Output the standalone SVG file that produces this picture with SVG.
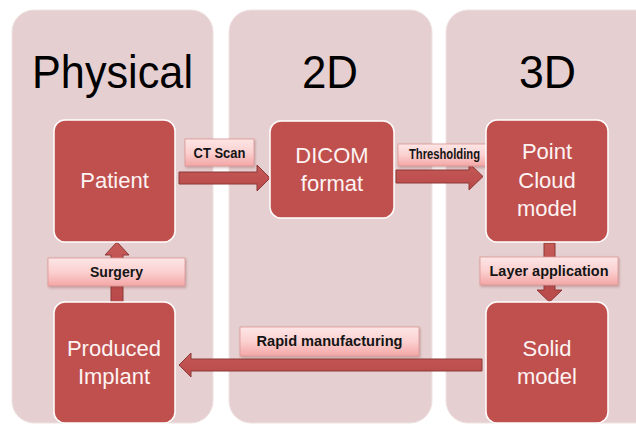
<svg xmlns="http://www.w3.org/2000/svg" width="636" height="426" viewBox="0 0 636 426">
  <style>
    .panel { fill: #e6cfd0; stroke: #efe2e2; stroke-width: 1; }
    .node { fill: #c0504d; stroke: #ffffff; stroke-width: 1.5; }
    .arrow { fill: url(#arrowFill); stroke: #8c3836; stroke-width: 1; }
    .label { fill: url(#labelFill); stroke: #d99694; stroke-width: 0.8; filter: url(#shadow); }
    .heading { font-family: "Liberation Sans", Arial, sans-serif; font-size: 46px; fill: #000000; text-anchor: middle; }
    .ntext { font-family: "Liberation Sans", Arial, sans-serif; font-size: 22px; fill: #fdf3f3; text-anchor: middle; }
    .ltext { font-family: "Liberation Sans", Arial, sans-serif; font-weight: bold; font-size: 14px; fill: #141414; text-anchor: middle; }
  </style>
  <defs>
    <linearGradient id="labelFill" x1="0" y1="0" x2="0" y2="1">
      <stop offset="0" stop-color="#fde6e6"/>
      <stop offset="0.5" stop-color="#fbd0d0"/>
      <stop offset="1" stop-color="#f3a6a5"/>
    </linearGradient>
    <linearGradient id="arrowFill" x1="0" y1="0" x2="0" y2="1">
      <stop offset="0" stop-color="#c55a57"/>
      <stop offset="1" stop-color="#b9494a"/>
    </linearGradient>
    <filter id="shadow" x="-10%" y="-20%" width="125%" height="150%">
      <feDropShadow dx="1" dy="1.5" stdDeviation="1" flood-color="#7a3a3a" flood-opacity="0.35"/>
    </filter>
  </defs>

  <rect width="636" height="426" fill="#ffffff"/>

  <!-- stage panels -->
  <g id="panels">
    <rect class="panel" x="12" y="10" width="201" height="413" rx="22"/>
    <rect class="panel" x="229" y="10" width="203" height="413" rx="22"/>
    <rect class="panel" x="446" y="10" width="214" height="413" rx="22"/>
    <text class="heading" x="112.5" y="88" textLength="161" lengthAdjust="spacingAndGlyphs">Physical</text>
    <text class="heading" x="330" y="88" textLength="56" lengthAdjust="spacingAndGlyphs">2D</text>
    <text class="heading" x="547.5" y="88" textLength="57" lengthAdjust="spacingAndGlyphs">3D</text>
  </g>

  <!-- connectors -->
  <g id="connectors">
    <path class="arrow" d="M179,172 H257 V165 L270,178 L257,191 V184 H179 Z"/>
    <path class="arrow" d="M396,170 H469 V163 L483,176.5 L469,190 V183 H396 Z"/>
    <path class="arrow" d="M544,243 V290 H537 L549.5,302 L562,290 H555 V243 Z"/>
    <path class="arrow" d="M111,302 V255 H105 L117,242 L129,255 H123 V302 Z"/>
    <path class="arrow" d="M482,359 H191 V353 L179,365 L191,377 V371 H482 Z"/>

    <g id="label-ct-scan">
      <rect class="label" x="185" y="139" width="69" height="27"/>
      <text class="ltext" x="219.5" y="157.5" textLength="52" lengthAdjust="spacingAndGlyphs">CT Scan</text>
    </g>
    <g id="label-thresholding">
      <rect class="label" x="398" y="144" width="93" height="22"/>
      <text class="ltext" x="444.5" y="159" font-size="11" textLength="71" lengthAdjust="spacingAndGlyphs">Thresholding</text>
    </g>
    <g id="label-layer">
      <rect class="label" x="480" y="257" width="138" height="28"/>
      <text class="ltext" x="549" y="276" textLength="119" lengthAdjust="spacingAndGlyphs">Layer application</text>
    </g>
    <g id="label-surgery">
      <rect class="label" x="48" y="258" width="137" height="28"/>
      <text class="ltext" x="116.5" y="277" textLength="53" lengthAdjust="spacingAndGlyphs">Surgery</text>
    </g>
    <g id="label-rapid">
      <rect class="label" x="240" y="327" width="179" height="29"/>
      <text class="ltext" x="329.5" y="346" textLength="146" lengthAdjust="spacingAndGlyphs">Rapid manufacturing</text>
    </g>
  </g>

  <!-- process nodes -->
  <g id="node-patient">
    <rect class="node" x="54" y="120" width="121" height="122" rx="11"/>
    <text class="ntext" x="114.5" y="188">Patient</text>
  </g>
  <g id="node-dicom">
    <rect class="node" x="270" y="121" width="124" height="97" rx="11"/>
    <text class="ntext" x="332" y="163">DICOM</text>
    <text class="ntext" x="332" y="191">format</text>
  </g>
  <g id="node-point-cloud">
    <rect class="node" x="486" y="120" width="122" height="122" rx="11"/>
    <text class="ntext" x="547" y="159">Point</text>
    <text class="ntext" x="547" y="188">Cloud</text>
    <text class="ntext" x="547" y="216">model</text>
  </g>
  <g id="node-implant">
    <rect class="node" x="54" y="302" width="121" height="121" rx="11"/>
    <text class="ntext" x="114" y="356">Produced</text>
    <text class="ntext" x="114" y="384">Implant</text>
  </g>
  <g id="node-solid">
    <rect class="node" x="486" y="302" width="122" height="121" rx="11"/>
    <text class="ntext" x="547" y="356">Solid</text>
    <text class="ntext" x="547" y="384">model</text>
  </g>
</svg>
